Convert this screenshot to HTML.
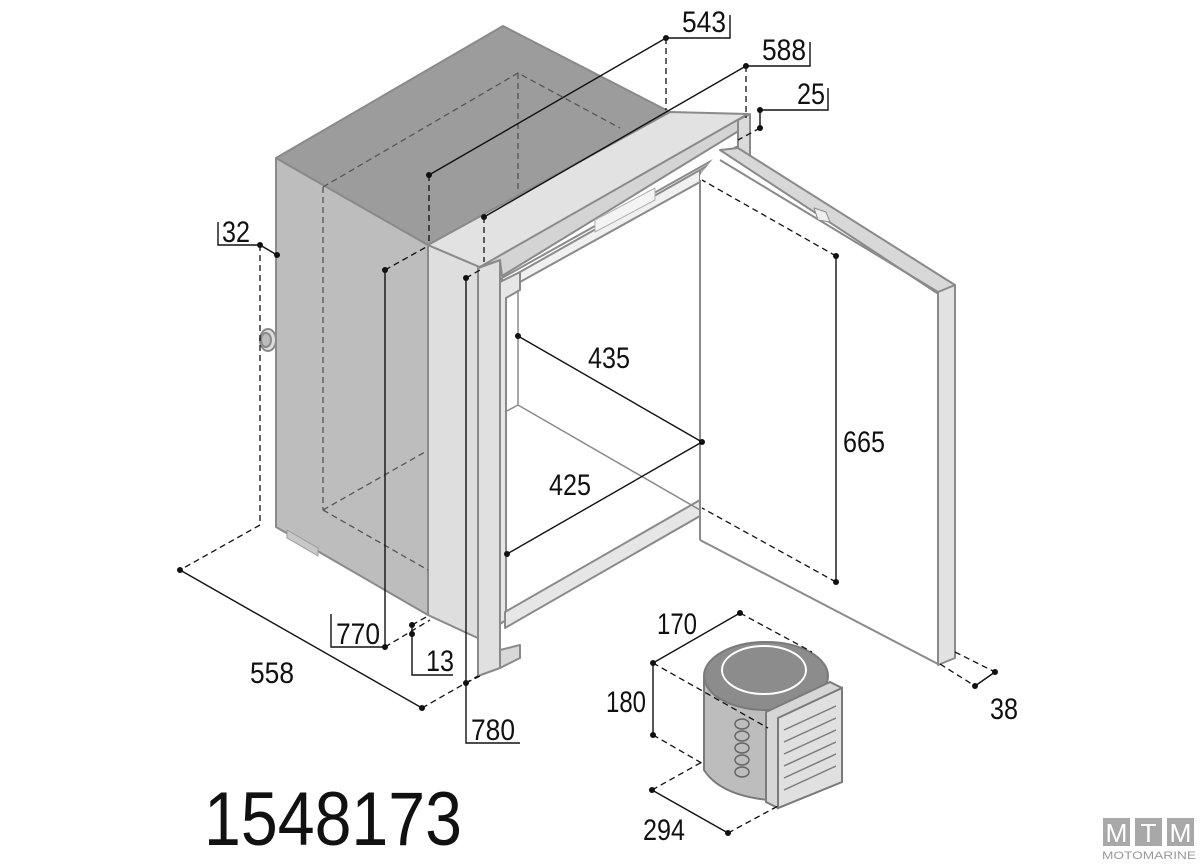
<!DOCTYPE html>
<html><head><meta charset="utf-8"><style>
html,body{margin:0;padding:0;background:#fff;}
svg{display:block;}
text{font-family:"Liberation Sans",sans-serif;fill:#111;}
</style></head><body>
<svg width="1200" height="864" viewBox="0 0 1200 864" xmlns="http://www.w3.org/2000/svg">
<g stroke="#8a8a8a" stroke-width="2" stroke-linejoin="round">
  <!-- cabinet left side -->
  <polygon points="276,158 428,245 428,615 276,527" fill="#bdbdbd"/>
  <!-- feet -->
  <polygon points="287,530 318,548 318,556 287,538" fill="#c8c8c8" stroke="#9a9a9a" stroke-width="1"/>
  <!-- front side strip -->
  <polygon points="428,245 482,268 482,640 428,615" fill="#dedede"/>
  <!-- top face -->
  <polygon points="276,158 503,26 670,112 428,245" fill="#9c9c9c"/>
  <!-- top front flange -->
  <polygon points="428,245 670,112 748,114 482,268" fill="#e2e2e2"/>
  <!-- bezel left vertical bar -->
  <polygon points="478,268 500,260 500,668 478,676" fill="#e0e0e0"/>
  <!-- bezel top bar -->
  <polygon points="478,268 748,114 750,124 502,276 500,260" fill="#d4d4d4"/>
  <polygon points="738,120 750,114 750,165 738,170" fill="#dadada"/>
  <!-- opening -->
  <polygon points="502,278 738,146 738,170 700,180 700,510 505,620" fill="#ffffff"/>
  <polygon points="500,282 520,272 520,290 506,298 506,620 500,624" fill="#e6e6e6"/>
  <polygon points="520,272 700,170 700,182 520,282" fill="#f0f0f0"/>
  <polygon points="595,220 655,188 655,200 595,232" fill="#f4f4f4" stroke="#b0b0b0" stroke-width="1"/>
  <polygon points="700,170 738,148 738,172 700,190" fill="#b0b0b0"/>
  <!-- shelf / floor strip -->
  <polygon points="505,612 700,500 700,516 505,628" fill="#e6e6e6"/>
  <!-- bottom tab -->
  <polygon points="500,650 520,645 520,658 500,668" fill="#d8d8d8"/>
  <!-- door -->
  <polygon points="700,175 720,150 955,288 955,660 940,662 700,540" fill="#ffffff" stroke="none"/>
  <polygon points="720,150 738,148 955,285 940,295" fill="#d8d8d8"/>
  <polygon points="938,292 955,285 955,658 938,665" fill="#e2e2e2"/>
  <line x1="700" y1="180" x2="700" y2="540"/>
  <line x1="700" y1="540" x2="938" y2="664"/>
  <line x1="720" y1="160" x2="938" y2="292"/>
  <polygon points="814,208 826,212 830,222 818,220" fill="#eee" stroke-width="1"/>
  <!-- interior lines -->
  <line x1="518" y1="290" x2="518" y2="405" stroke-width="1.5"/>
  <line x1="505" y1="412" x2="518" y2="405" stroke-width="1.5"/>
  <line x1="518" y1="405" x2="700" y2="510" stroke-width="1.5"/>
  <!-- drain knob -->
  <ellipse cx="268" cy="340" rx="8" ry="11" fill="#ddd"/>
  <ellipse cx="266" cy="340" rx="5" ry="7" fill="#bbb"/>
</g>
<!-- hidden dashed edges on cabinet -->
<g fill="none" stroke="#555" stroke-width="1.3" stroke-dasharray="6,4">
  <polyline points="323,187 518,73 620,128"/>
  <line x1="518" y1="73" x2="518" y2="190"/>
  <line x1="323" y1="187" x2="323" y2="510"/>
  <polyline points="323,510 428,570"/>
  <line x1="323" y1="510" x2="425" y2="452"/>
</g>
<!-- compressor -->
<g stroke="#7a7a7a" stroke-width="2">
  <path d="M704,676 L704,770 Q720,795 768,800 L768,700 Z" fill="#bdbdbd"/>
  <ellipse cx="766" cy="676" rx="62" ry="34" fill="#8c8c8c"/>
  <ellipse cx="764" cy="670" rx="42" ry="24" fill="#8c8c8c" stroke="#fff" stroke-width="2"/>
  <polygon points="766,712 830,682 842,688 842,782 778,808 766,802" fill="#d6d6d6"/>
  <polygon points="778,718 842,688 842,782 778,808" fill="#e0e0e0"/>
  <g stroke-width="1.5">
    <line x1="784" y1="730" x2="836" y2="706"/>
    <line x1="784" y1="742" x2="836" y2="718"/>
    <line x1="784" y1="754" x2="836" y2="730"/>
    <line x1="784" y1="766" x2="836" y2="742"/>
    <line x1="784" y1="778" x2="836" y2="754"/>
    <line x1="784" y1="790" x2="836" y2="766"/>
  </g>
  <g fill="none" stroke="#666" stroke-width="1.5">
    <ellipse cx="742" cy="724" rx="7" ry="5"/><ellipse cx="742" cy="736" rx="7" ry="5"/>
    <ellipse cx="742" cy="748" rx="7" ry="5"/><ellipse cx="742" cy="760" rx="7" ry="5"/>
    <ellipse cx="742" cy="772" rx="7" ry="5"/>
  </g>
</g>
<!-- dimension lines -->
<g fill="none" stroke="#111" stroke-width="1.4">
  <line x1="666" y1="38" x2="429" y2="175"/>
  <polyline points="666,38 730,38 730,15"/>
  <line x1="746" y1="66" x2="484" y2="217"/>
  <polyline points="746,66 810,66 810,42"/>
  <line x1="760" y1="110" x2="760" y2="128"/>
  <polyline points="760,110 828,110 828,88"/>
  <polyline points="218,222 218,245 260,245 277,255"/>
  <line x1="180" y1="570" x2="422" y2="708"/>
  <line x1="385" y1="270" x2="385" y2="647"/>
  <polyline points="331,614 331,647 385,647"/>
  <line x1="412" y1="625" x2="412" y2="634"/>
  <polyline points="412,634 412,675 453,675"/>
  <polyline points="466,278 466,743 520,743"/>
  <line x1="518" y1="336" x2="702" y2="442"/>
  <line x1="507" y1="554" x2="702" y2="442"/>
  <line x1="836" y1="256" x2="836" y2="582"/>
  <line x1="975" y1="686" x2="995" y2="672"/>
  <line x1="740" y1="613" x2="653" y2="663"/>
  <line x1="653" y1="663" x2="653" y2="735"/>
  <line x1="652" y1="790" x2="728" y2="833"/>
</g>
<g fill="none" stroke="#111" stroke-width="1.3" stroke-dasharray="6,4">
  <line x1="666" y1="38" x2="666" y2="110"/>
  <line x1="429" y1="175" x2="429" y2="245"/>
  <line x1="746" y1="66" x2="746" y2="118"/>
  <line x1="484" y1="217" x2="484" y2="262"/>
  <line x1="760" y1="128" x2="738" y2="140"/>
  <polyline points="260,245 260,525 180,570"/>
  <line x1="422" y1="708" x2="478" y2="676"/>
  <line x1="385" y1="270" x2="428" y2="246"/>
  <line x1="385" y1="647" x2="430" y2="620"/>
  <line x1="412" y1="625" x2="428" y2="616"/>
  <line x1="466" y1="278" x2="480" y2="270"/>
  <line x1="466" y1="683" x2="480" y2="676"/>
  <line x1="836" y1="256" x2="702" y2="180"/>
  <line x1="836" y1="582" x2="702" y2="508"/>
  <line x1="940" y1="664" x2="975" y2="686"/>
  <line x1="955" y1="652" x2="995" y2="672"/>
  <line x1="740" y1="613" x2="812" y2="652"/>
  <line x1="653" y1="663" x2="768" y2="728"/>
  <line x1="653" y1="735" x2="705" y2="765"/>
  <line x1="652" y1="790" x2="702" y2="762"/>
  <line x1="728" y1="833" x2="778" y2="806"/>
</g>
<g fill="#111">
  <circle cx="666" cy="38" r="3"/><circle cx="429" cy="175" r="3"/>
  <circle cx="746" cy="66" r="3"/><circle cx="484" cy="217" r="3"/>
  <circle cx="760" cy="110" r="3"/><circle cx="760" cy="128" r="3"/>
  <circle cx="260" cy="245" r="3"/><circle cx="277" cy="255" r="3"/>
  <circle cx="180" cy="570" r="3"/><circle cx="422" cy="708" r="3"/>
  <circle cx="385" cy="270" r="3"/><circle cx="385" cy="647" r="3"/>
  <circle cx="412" cy="625" r="3"/><circle cx="412" cy="634" r="3"/>
  <circle cx="466" cy="278" r="3"/><circle cx="466" cy="683" r="3"/>
  <circle cx="518" cy="336" r="3"/><circle cx="702" cy="442" r="3"/><circle cx="507" cy="554" r="3"/>
  <circle cx="836" cy="256" r="3"/><circle cx="836" cy="582" r="3"/>
  <circle cx="975" cy="686" r="3"/><circle cx="995" cy="672" r="3"/>
  <circle cx="740" cy="613" r="3"/><circle cx="653" cy="663" r="3"/><circle cx="653" cy="735" r="3"/>
  <circle cx="652" cy="790" r="3"/><circle cx="728" cy="833" r="3"/>
</g>
<!-- labels -->
<g font-size="30">
  <text x="682" y="32" textLength="44" lengthAdjust="spacingAndGlyphs">543</text>
  <text x="762" y="60" textLength="44" lengthAdjust="spacingAndGlyphs">588</text>
  <text x="797" y="104" textLength="28" lengthAdjust="spacingAndGlyphs">25</text>
  <text x="222" y="242" textLength="28" lengthAdjust="spacingAndGlyphs">32</text>
  <text x="250" y="683" textLength="44" lengthAdjust="spacingAndGlyphs">558</text>
  <text x="336" y="644" textLength="44" lengthAdjust="spacingAndGlyphs">770</text>
  <text x="426" y="671" textLength="28" lengthAdjust="spacingAndGlyphs">13</text>
  <text x="471" y="740" textLength="44" lengthAdjust="spacingAndGlyphs">780</text>
  <text x="588" y="368" textLength="42" lengthAdjust="spacingAndGlyphs">435</text>
  <text x="549" y="495" textLength="42" lengthAdjust="spacingAndGlyphs">425</text>
  <text x="843" y="452" textLength="42" lengthAdjust="spacingAndGlyphs">665</text>
  <text x="990" y="719" textLength="28" lengthAdjust="spacingAndGlyphs">38</text>
  <text x="657" y="634" textLength="40" lengthAdjust="spacingAndGlyphs">170</text>
  <text x="606" y="712" textLength="40" lengthAdjust="spacingAndGlyphs">180</text>
  <text x="643" y="840" textLength="42" lengthAdjust="spacingAndGlyphs">294</text>
</g>
<text x="204" y="845" font-size="76" textLength="258" lengthAdjust="spacingAndGlyphs">1548173</text>
<!-- MTM logo -->
<g fill="#a8a8a8">
  <rect x="1103" y="818" width="27" height="28"/>
  <rect x="1135" y="818" width="27" height="28"/>
  <rect x="1167" y="818" width="27" height="28"/>
</g>
<g font-size="26" fill="#fff" text-anchor="middle">
  <text x="1116.5" y="842" style="fill:#fff" textLength="22" lengthAdjust="spacingAndGlyphs">M</text>
  <text x="1148.5" y="842" style="fill:#fff">T</text>
  <text x="1180.5" y="842" style="fill:#fff" textLength="22" lengthAdjust="spacingAndGlyphs">M</text>
</g>
<text x="1102" y="859" font-size="11" style="fill:#999" textLength="94" lengthAdjust="spacingAndGlyphs">MOTOMARINE</text>
</svg>
</body></html>
